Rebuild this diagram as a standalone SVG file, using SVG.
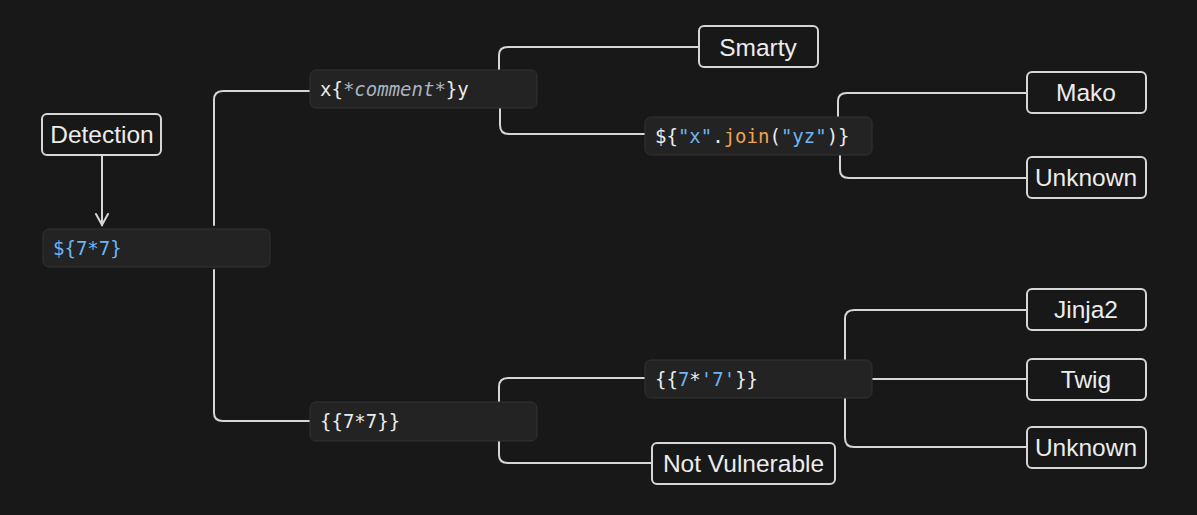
<svg xmlns="http://www.w3.org/2000/svg" width="1197" height="515" viewBox="0 0 1197 515">
<defs>
<style>
.bg{fill:#181818}
.box{fill:#181818;stroke:#d6d6d6;stroke-width:2}
.code{fill:#232323;stroke:#323232;stroke-width:1}
.lbl{font-family:"Liberation Sans",Arial,sans-serif;font-size:24.5px;fill:#ececec;text-anchor:middle}
.mono{font-family:"DejaVu Sans Mono","Liberation Mono",monospace;font-size:19px;fill:#ececec}
.c{fill:none;stroke:#d6d6d6;stroke-width:2;stroke-linecap:round}
.b{fill:#6cb6f5}
.o{fill:#f0a24f}
.cm{fill:#a9b4c0;font-style:italic}
</style>
</defs>
<rect class="bg" x="0" y="0" width="1197" height="515"/>
<g id="connectors">
<path class="c" d="M102,156 L102,225" />
<path class="c" d="M96,214 L102,225 L108,214" />
<path class="c" d="M214,225 L214,100 Q214,91 223,91 L310,91"/>
<path class="c" d="M214,270 L214,413 Q214,421 223,421 L310,421"/>
<path class="c" d="M499,70 L499,55 Q499,47 508,47 L699,47"/>
<path class="c" d="M500,108 L500,125 Q500,134 509,134 L645,134"/>
<path class="c" d="M838,117 L838,101 Q838,93 847,93 L1027,93"/>
<path class="c" d="M840,155 L840,170 Q840,178 849,178 L1027,178"/>
<path class="c" d="M499,402 L499,387 Q499,378 508,378 L645,378"/>
<path class="c" d="M499,441 L499,455 Q499,463 508,463 L652,463"/>
<path class="c" d="M845,360 L845,319 Q845,310 854,310 L1027,310"/>
<path class="c" d="M872,379 L1027,379"/>
<path class="c" d="M845,398 L845,438 Q845,447 854,447 L1027,447"/>
</g>
<g id="detection"><rect class="box" x="42" y="114" width="119" height="41" rx="5"/><text class="lbl" x="102" y="143">Detection</text></g>
<g id="n77"><rect class="code" x="43" y="229" width="227" height="38" rx="6"/><text class="mono b" x="53" y="255">${7*7}</text></g>
<g id="comment"><rect class="code" x="310" y="70" width="227" height="38" rx="6"/><text class="mono" x="320" y="96">x{<tspan class="cm">*comment*</tspan>}y</text></g>
<g id="smarty"><rect class="box" x="699" y="26" width="119" height="41" rx="5"/><text class="lbl" x="758" y="56">Smarty</text></g>
<g id="join"><rect class="code" x="645" y="117" width="227" height="38" rx="6"/><text class="mono" x="655" y="143">${<tspan class="b">"x"</tspan>.<tspan class="o">join</tspan>(<tspan class="b">"yz"</tspan>)}</text></g>
<g id="mako"><rect class="box" x="1027" y="72" width="119" height="41" rx="5"/><text class="lbl" x="1086" y="101">Mako</text></g>
<g id="unknown1"><rect class="box" x="1027" y="157" width="119" height="41" rx="5"/><text class="lbl" x="1086" y="186">Unknown</text></g>
<g id="jinja77"><rect class="code" x="310" y="402" width="227" height="39" rx="6"/><text class="mono" x="320" y="428">{{7*7}}</text></g>
<g id="jinja7s7"><rect class="code" x="645" y="360" width="227" height="38" rx="6"/><text class="mono" x="655" y="386">{{<tspan class="b">7</tspan>*<tspan class="b">'7'</tspan>}}</text></g>
<g id="notvuln"><rect class="box" x="652" y="443" width="183" height="41" rx="5"/><text class="lbl" x="743.5" y="472">Not Vulnerable</text></g>
<g id="jinja2"><rect class="box" x="1027" y="289" width="119" height="41" rx="5"/><text class="lbl" x="1086" y="318">Jinja2</text></g>
<g id="twig"><rect class="box" x="1027" y="359" width="119" height="41" rx="5"/><text class="lbl" x="1086" y="388">Twig</text></g>
<g id="unknown2"><rect class="box" x="1027" y="427" width="119" height="41" rx="5"/><text class="lbl" x="1086" y="456">Unknown</text></g>
</svg>
